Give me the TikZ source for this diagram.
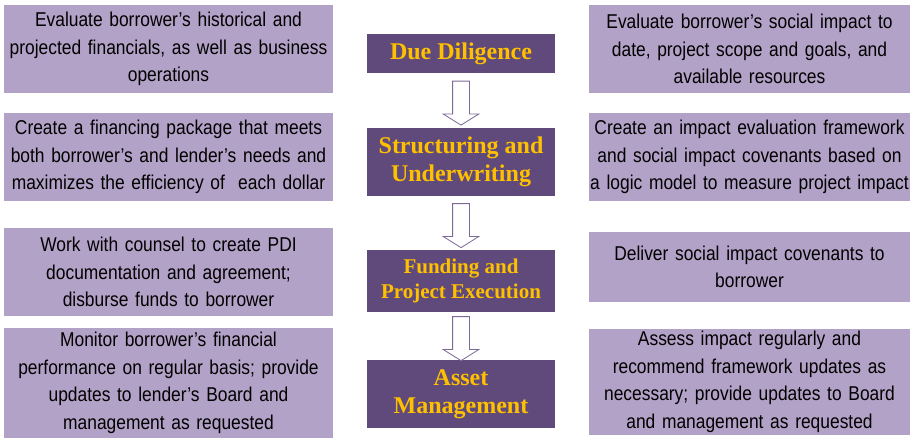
\documentclass[tikz,border=0pt]{standalone}
\usepackage{fontspec}
\setmainfont{Liberation Serif}
\newfontfamily\sidefont[FakeStretch=0.87]{Liberation Sans}
\usetikzlibrary{shapes.arrows}
\definecolor{stagefill}{HTML}{604A7B}
\definecolor{notefill}{HTML}{B3A2C7}
\definecolor{stagegold}{HTML}{FFC000}
\definecolor{arrowline}{HTML}{7D6A96}
\begin{document}
\begin{tikzpicture}[x=1pt, y=-1pt,
		sidebox/.style={fill=notefill, inner sep=0pt, align=center, font=\sidefont\fontsize{20}{27.5}\selectfont},
		stagebox/.style={fill=stagefill, text=stagegold, inner sep=0pt, align=center, minimum width=188pt, font=\bfseries\fontsize{24}{28}\selectfont},
		downarrow/.style={single arrow, shape border rotate=270, draw=arrowline, fill=white, line width=0.8pt, inner sep=8pt, minimum height=44pt, single arrow head extend=9.5pt, single arrow tip angle=116}]
			\useasboundingbox (0,0) rectangle (910,438);
			% stages in the middle
			\node (due) at (461,53.5) [stagebox, minimum height=39pt] {Due Diligence};
			\node (struct) at (461,162) [stagebox, minimum height=68pt] {Structuring and\\Underwriting};
			\node (fund) at (461,281) [stagebox, minimum height=62pt, font=\bfseries\fontsize{21}{25}\selectfont] {Funding and\\Project Execution};
			\node (asset) at (461,394) [stagebox, minimum height=68pt] {Asset\\Management};
			\path (due) -- (struct) node[midway, downarrow] (a1) {};
			\path (struct) -- (fund) node[midway, downarrow] (a2) {};
			\path (fund) -- (asset) node[midway, downarrow] (a3) {};
			% financial side
			\node (fin1) at (168.5,49) [sidebox, text width=329pt, minimum height=88pt] {Evaluate borrower’s historical and\\projected financials, as well as business\\operations};
			\node (fin2) at (168.5,157) [sidebox, text width=329pt, minimum height=88pt] {Create a financing package that meets\\both borrower’s and lender’s needs and\\maximizes the efficiency of~ each dollar};
			\node (fin3) at (168.5,272) [sidebox, text width=329pt, minimum height=88pt] {Work with counsel to create PDI\\documentation and agreement;\\disburse funds to borrower};
			\node (fin4) at (168.5,383) [sidebox, text width=329pt, minimum height=110pt] {Monitor borrower’s financial\\performance on regular basis; provide\\updates to lender’s Board and\\management as requested};
			% impact side
			\node (imp1) at (749.5,49) [sidebox, text width=321pt, minimum height=88pt] {Evaluate borrower’s social impact to\\date, project scope and goals, and\\available resources};
			\node (imp2) at (749.5,157) [sidebox, text width=321pt, minimum height=88pt] {Create an impact evaluation framework\\and social impact covenants based on\\a logic model to measure project impact};
			\node (imp3) at (749.5,267) [sidebox, text width=321pt, minimum height=70pt] {Deliver social impact covenants to\\borrower};
			\node (imp4) at (749.5,382) [sidebox, text width=321pt, minimum height=106pt] {Assess impact regularly and\\recommend framework updates as\\necessary; provide updates to Board\\and management as requested};
		\end{tikzpicture}
\end{document}
